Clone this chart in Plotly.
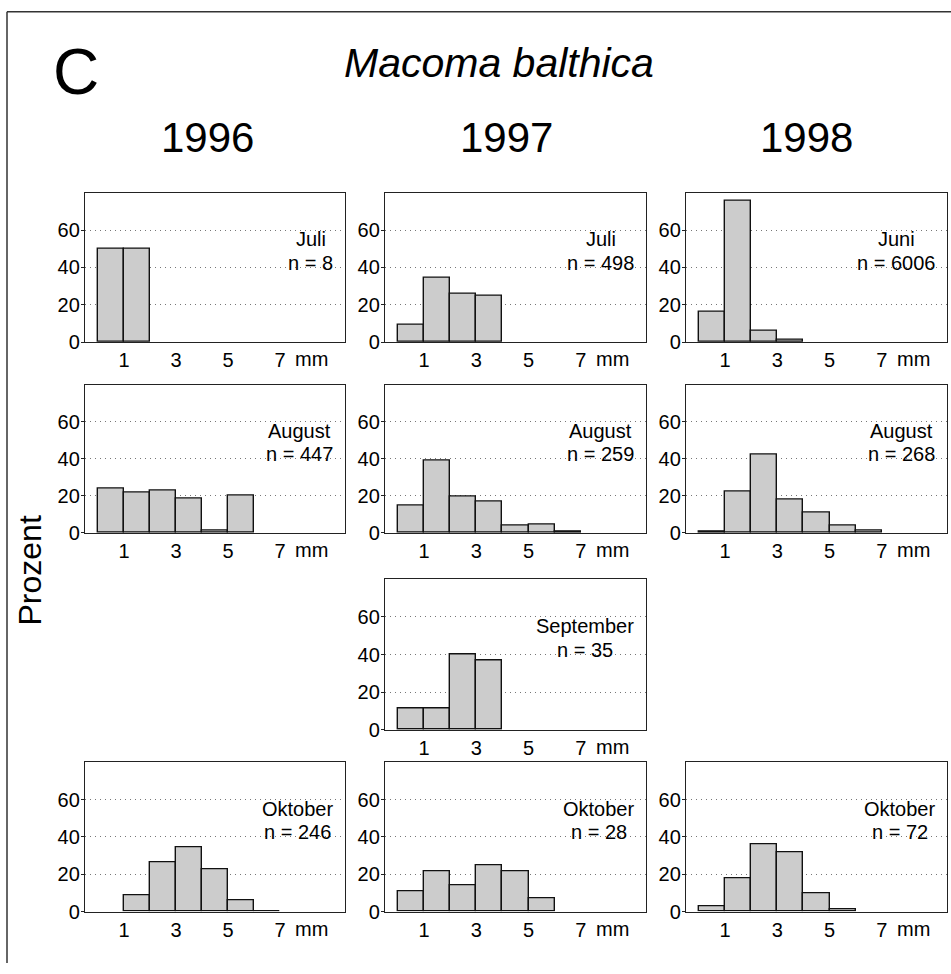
import plotly.graph_objects as go

# ---------------- data ----------------
bins = [0, 1, 2, 3, 4, 5, 6, 7]          # lower edge of each 1-mm size class
years = ["1996", "1997", "1998"]
species = "Macoma balthica"
panel_letter = "C"
y_label = "Prozent"
ytick_vals = [0, 20, 40, 60]
xtick_vals = [1, 3, 5, 7]
xtick_text = ["1", "3", "5", "7"]
x_unit = "mm"

pct_1996_juli = [50, 50]
pct_1996_august = [24, 22, 23, 18.5, 1.5, 20]
pct_1996_oktober = [None, 8.6, 26.5, 34.2, 22.4, 6.0, 0.4]
pct_1997_juli = [9.5, 34.5, 26, 25]
pct_1997_august = [15, 38.8, 19.8, 16.8, 3.8, 4.7, 0.9]
pct_1997_september = [11.4, 11.4, 40, 37.1]
pct_1997_oktober = [10.7, 21.4, 14.3, 25, 21.4, 7.1]
pct_1998_juni = [16.5, 75.5, 6.2, 1.4]
pct_1998_august = [0.7, 22.4, 42.5, 17.8, 10.8, 3.8, 1.4]
pct_1998_oktober = [2.8, 18.1, 36.1, 31.9, 9.7, 1.4]

months = ["Juli", "Juli", "Juni", "August", "August", "August",
          "September", "Oktober", "Oktober", "Oktober"]
n_values = [8, 498, 6006, 447, 259, 268, 35, 246, 28, 72]
series = [pct_1996_juli, pct_1997_juli, pct_1998_juni,
          pct_1996_august, pct_1997_august, pct_1998_august,
          pct_1997_september,
          pct_1996_oktober, pct_1997_oktober, pct_1998_oktober]
grid_pos = [(0, 0), (0, 1), (0, 2), (1, 0), (1, 1), (1, 2), (2, 1), (3, 0), (3, 1), (3, 2)]

# ---------------- layout geometry (pixels) ----------------
W, H = 951, 974
col_px = [(85, 345), (385, 646), (686, 947)]
row_px = [(195, 346), (389, 539), (586, 738), (771, 922)]
FONT = "Liberation Sans, Arial, Helvetica, sans-serif"
XR = [-0.5, 9.5]
YR = [0, 80]
LBL = 20

def px_x(p):
    return p / W

def px_y(p):
    return 1 - p / H

# Arial advance widths (per 1000 em)
AW = {' ': 278, '=': 584, 'n': 556, 'J': 500, 'u': 556, 'l': 222, 'i': 222,
      'A': 667, 'g': 556, 's': 500, 't': 278, 'S': 667, 'e': 556, 'p': 556,
      'm': 833, 'b': 556, 'r': 333, 'O': 778, 'k': 500, 'o': 556}

def text_w(s, size):
    return sum(AW.get(c, 556) for c in s) * size / 1000

fig = go.Figure()
annotations = []
shapes = []
layout_axes = {}

for i, ((r, c), vals, month, n) in enumerate(zip(grid_pos, series, months, n_values)):
    k = "" if i == 0 else str(i + 1)
    xa, ya = "x" + k, "y" + k
    fig.add_trace(go.Bar(
        x=bins[:len(vals)], y=vals, width=1, offset=0,
        marker=dict(color="#cccccc", line=dict(color="#111111", width=1.4)),
        xaxis=xa, yaxis=ya, showlegend=False, hoverinfo="x+y"))
    x0, x1 = col_px[c]
    y0, y1 = row_px[r]
    layout_axes["xaxis" + k] = dict(
        domain=[px_x(x0), px_x(x1)], range=XR, anchor=ya,
        tickvals=xtick_vals, ticktext=xtick_text, ticks="",
        showgrid=False, zeroline=False, showline=True, mirror=True,
        linecolor="#222222", linewidth=1.3,
        tickfont=dict(family=FONT, size=20, color="black"), fixedrange=True)
    layout_axes["yaxis" + k] = dict(
        domain=[px_y(y1), px_y(y0)], range=YR, anchor=xa,
        tickvals=ytick_vals, ticks="outside", ticklen=3, tickcolor="#222222",
        ticklabelstandoff=-3,
        showgrid=True, gridcolor="#777777", griddash="1px,4px", gridwidth=1,
        zeroline=False, showline=True, mirror=True,
        linecolor="#222222", linewidth=1.3,
        tickfont=dict(family=FONT, size=20, color="black"), fixedrange=True)
    # month / n labels (two lines centred on each other, block right-aligned)
    ntxt = f"n = {n}"
    wpx = max(text_w(month, LBL), text_w(ntxt, LBL))
    unit_px = (x1 - x0) / (XR[1] - XR[0])
    xc = 9.05 - (wpx / 2) / unit_px
    annotations.append(dict(x=xc, y=55.2, xref=xa, yref=ya, text=month,
                            showarrow=False, xanchor="center", yanchor="middle",
                            font=dict(family=FONT, size=LBL, color="black")))
    annotations.append(dict(x=xc, y=42.6, xref=xa, yref=ya, text=ntxt,
                            showarrow=False, xanchor="center", yanchor="middle",
                            font=dict(family=FONT, size=LBL, color="black")))
    # unit label after the last x tick
    annotations.append(dict(x=7.5, y=0, xref=xa, yref=ya + " domain", text=x_unit,
                            showarrow=False, xanchor="left", yanchor="middle", yshift=-17,
                            font=dict(family=FONT, size=20, color="black")))

# headings
annotations.append(dict(x=px_x(76), y=px_y(73), xref="paper", yref="paper", text=panel_letter,
                         showarrow=False, xanchor="center", yanchor="middle",
                         font=dict(family=FONT, size=64, color="black")))
annotations.append(dict(x=px_x(499), y=px_y(64), xref="paper", yref="paper",
                         text=f"<i>{species}</i>",
                         showarrow=False, xanchor="center", yanchor="middle",
                         font=dict(family=FONT, size=41, color="black")))
for yr, cx in zip(years, [207, 506, 806]):
    annotations.append(dict(x=px_x(cx), y=px_y(139), xref="paper", yref="paper", text=yr,
                             showarrow=False, xanchor="center", yanchor="middle",
                             font=dict(family=FONT, size=42, color="black")))
annotations.append(dict(x=px_x(30), y=px_y(577), xref="paper", yref="paper", text=y_label,
                         showarrow=False, xanchor="center", yanchor="middle", textangle=-90,
                         font=dict(family=FONT, size=32, color="black")))

# outer frame (top and left edges)
shapes.append(dict(type="line", xref="paper", yref="paper",
                   x0=px_x(7), x1=1.0, y0=px_y(12), y1=px_y(12),
                   line=dict(color="#333333", width=1.5)))
shapes.append(dict(type="line", xref="paper", yref="paper",
                   x0=px_x(7), x1=px_x(7), y0=px_y(12), y1=0,
                   line=dict(color="#333333", width=1.5)))

fig.update_layout(
    width=W, height=H, margin=dict(l=0, r=0, t=0, b=0),
    paper_bgcolor="white", plot_bgcolor="white",
    annotations=annotations, shapes=shapes, bargap=0,
    **layout_axes)

fig.write_html("out.html", config={"displayModeBar": False})
